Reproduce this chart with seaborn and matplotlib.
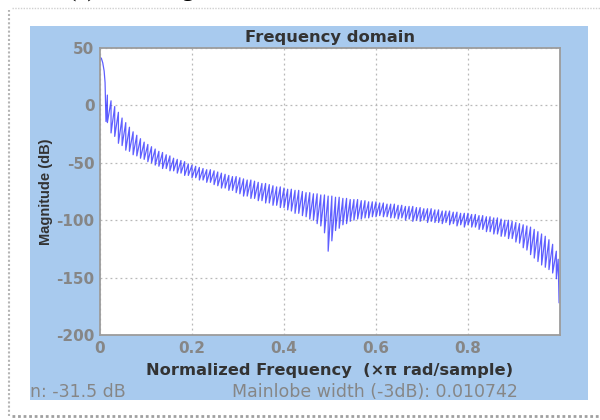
import pandas as pd
import matplotlib.pyplot as plt
import seaborn as sns
from matplotlib.patches import Rectangle
from matplotlib.lines import Line2D

# --- DATA ---
# main lobe
MAIN_FREQ = [0.0, 0.003, 0.006, 0.009, 0.011, 0.013]
MAIN_MAG = [42, 41, 37, 30, 20, -14]

# sidelobe positions (x pi rad/sample)
PEAK_FREQ = [0.016, 0.024, 0.032, 0.040, 0.048, 0.056, 0.064, 0.072, 0.080, 0.088,
             0.096, 0.104, 0.112, 0.120, 0.128, 0.136, 0.144, 0.152, 0.160, 0.168,
             0.176, 0.184, 0.192, 0.200, 0.208, 0.216, 0.224, 0.232, 0.240, 0.248,
             0.256, 0.264, 0.272, 0.280, 0.288, 0.296, 0.304, 0.312, 0.320, 0.328,
             0.336, 0.344, 0.352, 0.360, 0.368, 0.376, 0.384, 0.392, 0.400, 0.408,
             0.416, 0.424, 0.432, 0.440, 0.448, 0.456, 0.464, 0.472, 0.480, 0.488,
             0.496, 0.504, 0.512, 0.520, 0.528, 0.536, 0.544, 0.552, 0.560, 0.568,
             0.576, 0.584, 0.592, 0.600, 0.608, 0.616, 0.624, 0.632, 0.640, 0.648,
             0.656, 0.664, 0.672, 0.680, 0.688, 0.696, 0.704, 0.712, 0.720, 0.728,
             0.736, 0.744, 0.752, 0.760, 0.768, 0.776, 0.784, 0.792, 0.800, 0.808,
             0.816, 0.824, 0.832, 0.840, 0.848, 0.856, 0.864, 0.872, 0.880, 0.888,
             0.896, 0.904, 0.912, 0.920, 0.928, 0.936, 0.944, 0.952, 0.960, 0.968,
             0.976, 0.984, 0.992]

# sidelobe peaks (dB)
PEAK_MAG = [9, 4, -1, -6, -11, -15, -19, -23, -26, -29,
            -32, -34, -36, -38, -40, -41, -43, -44, -46, -47,
            -48, -49, -51, -52, -53, -54, -55, -56, -56, -57,
            -58, -59, -60, -61, -62, -62, -63, -64, -65, -65,
            -66, -67, -68, -68, -69, -70, -71, -71, -72, -73,
            -73, -74, -74, -75, -76, -76, -77, -77, -78, -78,
            -79, -79, -80, -80, -81, -81, -82, -82, -82, -83,
            -83, -84, -84, -84, -85, -85, -86, -86, -86, -87,
            -87, -88, -88, -88, -89, -89, -90, -90, -90, -91,
            -91, -92, -92, -92, -93, -93, -94, -94, -94, -95,
            -95, -96, -96, -97, -97, -98, -98, -99, -100, -100,
            -101, -102, -103, -104, -105, -106, -108, -110, -112, -114,
            -117, -121, -127]

# null tips between sidelobes (dB)
NULL_MAG = [-15, -24, -27, -33, -35, -39, -40, -43, -44, -46,
            -47, -49, -50, -52, -53, -55, -55, -57, -57, -59,
            -59, -61, -61, -63, -63, -65, -65, -67, -67, -69,
            -70, -72, -72, -74, -74, -76, -77, -79, -79, -81,
            -81, -83, -83, -85, -85, -87, -87, -89, -89, -91,
            -92, -94, -94, -96, -97, -99, -100, -103, -105, -111,
            -127, -118, -109, -107, -104, -103, -101, -100, -99, -99,
            -98, -98, -97, -97, -96, -97, -97, -98, -98, -99,
            -98, -100, -99, -101, -100, -101, -100, -102, -101, -102,
            -102, -103, -102, -104, -103, -105, -104, -106, -104, -106,
            -106, -108, -108, -110, -110, -112, -112, -114, -114, -116,
            -116, -119, -120, -124, -126, -130, -133, -136, -139, -141,
            -143, -146, -151]

# drop at Nyquist
TAIL_FREQ = [0.996, 0.998]
TAIL_MAG = [-134, -172]

X_TICKS = [0, 0.2, 0.4, 0.6, 0.8]
X_TICK_LABELS = ['0', '0.2', '0.4', '0.6', '0.8']
Y_TICKS = [50, 0, -50, -100, -150, -200]

# --- build the trace ---
freq, mag = list(MAIN_FREQ), list(MAIN_MAG)
for f, hi, lo in zip(PEAK_FREQ, PEAK_MAG, NULL_MAG):
    freq += [f, f]
    mag += [hi, lo]
freq += TAIL_FREQ
mag += TAIL_MAG
df = pd.DataFrame({'freq': freq, 'mag': mag})

# --- FIGURE ---
sns.set_style('white')
plt.rcParams['font.family'] = ['DejaVu Sans']
plt.rcParams['axes.unicode_minus'] = False

fig = plt.figure(figsize=(6, 4.2), dpi=100)
fig.patch.set_facecolor('white')

# blue tool panel (behind the axes)
fig.patches.append(Rectangle((30 / 600, 20 / 420), 558 / 600, 374 / 420,
                             transform=fig.transFigure, facecolor='#a8caee',
                             edgecolor='none', zorder=-5))
# dotted page frame
fig.lines.append(Line2D([9 / 600, 9 / 600], [4 / 420, 410 / 420], transform=fig.transFigure,
                        color='#b5b5b5', lw=1.5, ls=(0, (1, 1)), zorder=-5))
fig.lines.append(Line2D([12 / 600, 1.0], [412 / 420, 412 / 420], transform=fig.transFigure,
                        color='#d0d0d0', lw=1.0, ls=(0, (1, 1)), zorder=-5))
fig.lines.append(Line2D([12 / 600, 1.0], [4 / 420, 4 / 420], transform=fig.transFigure,
                        color='#a0a0a0', lw=2.0, ls=(0, (1, 1)), zorder=-5))

# caption of the page, cut off by the top edge in the reference
fig.text(68 / 600, 1 + 3 / 420, '(a)  Hanning window', family='Liberation Serif',
         fontsize=18, color='black', va='baseline', ha='left')

ax = fig.add_axes([100 / 600, 85 / 420, 460 / 600, 287 / 420])
ax.set_zorder(2)
ax.set_facecolor('white')

sns.lineplot(data=df, x='freq', y='mag', sort=False, estimator=None, ax=ax,
             color='#2a2aff', lw=0.9, alpha=0.75)

ax.set_xlim(0, 1)
ax.set_ylim(-200, 50)
ax.set_xticks(X_TICKS)
ax.set_xticklabels(X_TICK_LABELS)
ax.set_yticks(Y_TICKS)
ax.tick_params(length=0, labelsize=11, labelcolor='#868686', pad=4)
for lab in ax.get_xticklabels() + ax.get_yticklabels():
    lab.set_fontweight('bold')

ax.grid(True, color='#b8b8b8', lw=0.9, ls=(0, (1.5, 2.5)))
for sp in ax.spines.values():
    sp.set_color('#9c9c9c')
    sp.set_linewidth(1.3)

ax.set_title('Frequency domain', fontsize=11.8, fontweight='bold', color='#333333', pad=4)
ax.set_xlabel('Normalized Frequency  (\u00d7\u03c0 rad/sample)', fontsize=11.7,
              fontweight='bold', color='#333333', labelpad=5)
ax.set_ylabel('Magnitude (dB)', family='Liberation Sans', fontsize=10.5,
              fontweight='bold', color='#333333', labelpad=2)

# status line of the tool
fig.text(30 / 600, 28 / 420, 'n: -31.5 dB', fontsize=12.5, color='#868686',
         va='center', ha='left')
fig.text(232 / 600, 28 / 420, 'Mainlobe width (-3dB): 0.010742', fontsize=12.5,
         color='#868686', va='center', ha='left')

fig.savefig('out.png', dpi=100)
